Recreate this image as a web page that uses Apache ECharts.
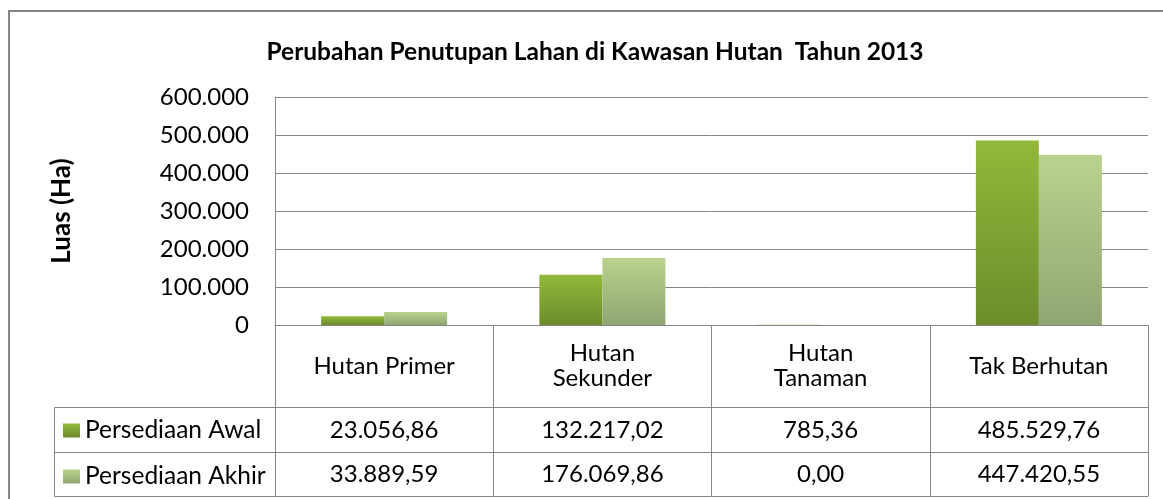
<!DOCTYPE html>
<html><head><meta charset="utf-8">
<script src="https://cdn.jsdelivr.net/npm/echarts@6/dist/echarts.min.js"></script>
<style>html,body{margin:0;padding:0;background:#fff}#c{width:1163px;height:499px}</style>
</head><body><div id="c"></div>
<script>
const chartTitle = 'Perubahan Penutupan Lahan di Kawasan Hutan  Tahun 2013';
const yAxisName = 'Luas (Ha)';
const categories = ['Hutan Primer', 'Hutan\nSekunder', 'Hutan\nTanaman', 'Tak Berhutan'];
const seriesNames = ['Persediaan Awal', 'Persediaan Akhir'];
const persediaanAwal = [23056.86, 132217.02, 785.36, 485529.76];
const persediaanAkhir = [33889.59, 176069.86, 0.00, 447420.55];
const yMin = 0, yMax = 600000, yInterval = 100000;

function idFmt(v, dec) {
  const s = Number(v).toFixed(dec);
  const parts = s.split('.');
  const ip = parts[0].replace(/\B(?=(\d{3})+(?!\d))/g, '.');
  return parts[1] ? ip + ',' + parts[1] : ip;
}

const FONT = 'Lato';
const FS = 24;
const LINE = '#868686';
const BLACK = '#000';

const chart = echarts.init(document.getElementById('c'), null, {renderer: 'canvas'});

function grad(top, bottom) {
  return new echarts.graphic.LinearGradient(0, 0, 0, 1, [
    {offset: 0, color: top}, {offset: 1, color: bottom}
  ]);
}
const colAwal = grad('#92b93a', '#6c8c2b');
const colAkhir = grad('#b9d38d', '#90a673');

const tableAxisBase = {
  type: 'category', data: categories, position: 'bottom', gridIndex: 0,
  axisLine: {show: true, lineStyle: {color: LINE, width: 1}},
  axisTick: {show: false}, splitLine: {show: false}
};

chart.setOption({
  animation: false,
  backgroundColor: '#fff',
  title: {
    text: chartTitle, left: 590, top: 35, textAlign: 'center',
    textStyle: {fontFamily: FONT, fontSize: 24.5, fontWeight: 'bold', color: BLACK}
  },
  legend: {
    orient: 'vertical', left: 63, top: 418, padding: 0, itemWidth: 17, itemHeight: 14, itemGap: 21,
    selectedMode: false, icon: 'rect',
    textStyle: {fontFamily: FONT, fontSize: 24.5, color: BLACK, lineHeight: 24},
    data: seriesNames
  },
  grid: {left: 275, right: 15, top: 97, bottom: 174, containLabel: false},
  xAxis: [
    Object.assign({}, tableAxisBase, {
      axisTick: {show: true, length: 171, alignWithLabel: false, lineStyle: {color: LINE, width: 1}},
      axisLabel: {show: true, interval: 0, margin: 41, verticalAlign: 'middle', fontFamily: FONT, fontSize: FS, color: BLACK, lineHeight: 25}
    }),
    Object.assign({}, tableAxisBase, {
      offset: 82,
      axisLabel: {show: true, interval: 0, margin: 23, verticalAlign: 'middle', fontFamily: FONT, fontSize: FS, color: BLACK,
        formatter: (v, i) => idFmt(persediaanAwal[i], 2)}
    }),
    Object.assign({}, tableAxisBase, {
      offset: 127,
      axisLabel: {show: true, interval: 0, margin: 22, verticalAlign: 'middle', fontFamily: FONT, fontSize: FS, color: BLACK,
        formatter: (v, i) => idFmt(persediaanAkhir[i], 2)}
    }),
    Object.assign({}, tableAxisBase, {
      offset: 171, axisLabel: {show: false}
    })
  ],
  yAxis: {
    type: 'value', min: yMin, max: yMax, interval: yInterval,
    name: yAxisName, nameLocation: 'middle', nameRotate: 90, nameGap: 200,
    nameTextStyle: {fontFamily: FONT, fontSize: 26, fontWeight: 'bold', color: BLACK},
    axisLine: {show: true, lineStyle: {color: LINE, width: 1}},
    axisTick: {show: false},
    axisLabel: {margin: 26, fontFamily: FONT, fontSize: FS, color: BLACK, formatter: v => idFmt(v, 0)},
    splitLine: {show: true, lineStyle: {color: LINE, width: 1}}
  },
  series: [
    {name: seriesNames[0], type: 'bar', data: persediaanAwal, barWidth: 63, barGap: '0%', itemStyle: {color: colAwal}, xAxisIndex: 0},
    {name: seriesNames[1], type: 'bar', data: persediaanAkhir, barWidth: 63, barGap: '0%', itemStyle: {color: colAkhir}, xAxisIndex: 0}
  ],
  graphic: [
    {type: 'rect', silent: true, shape: {x: 9, y: 11, width: 1170, height: 510},
      style: {fill: 'none', stroke: LINE, lineWidth: 2}},
    {type: 'polyline', silent: true, shape: {points: [[275, 407.5], [54.5, 407.5], [54.5, 496.5], [275, 496.5]]},
      style: {fill: 'none', stroke: LINE, lineWidth: 1}},
    {type: 'line', silent: true, shape: {x1: 54.5, y1: 452.5, x2: 275, y2: 452.5},
      style: {stroke: LINE, lineWidth: 1}}
  ]
});
</script></body></html>
